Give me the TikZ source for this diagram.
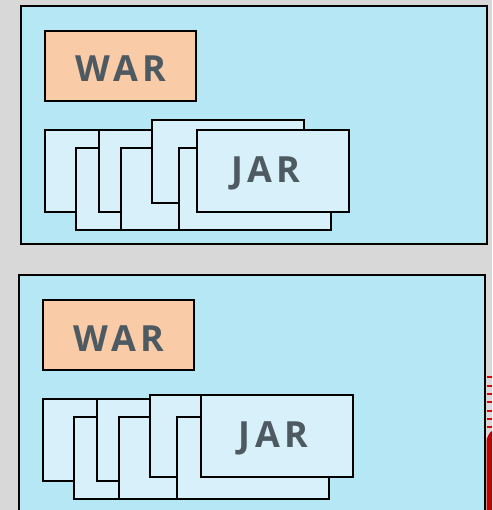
\documentclass[tikz,border=0pt]{standalone}
\usepackage{fontspec}
\setmainfont{Open Sans}
\newfontfamily\lblfont[LetterSpace=12]{Open Sans}
\definecolor{bgray}{HTML}{D8D8D8}
\definecolor{panel}{HTML}{B5E7F4}
\definecolor{jarfill}{HTML}{D8F0F9}
\definecolor{warfill}{HTML}{FACBA7}
\definecolor{txt}{HTML}{4E5A62}
\definecolor{redA}{HTML}{C00000}
\definecolor{redB}{HTML}{E00000}
\tikzset{
  panelbox/.style={draw=black, line width=2pt, fill=panel},
  warbox/.style={draw=black, line width=2pt, fill=warfill},
  jarbox/.style={draw=black, line width=2pt, fill=jarfill},
  lbl/.style={font=\lblfont\fontsize{36}{36}\selectfont\bfseries, text=txt, inner sep=0pt, anchor=base},
}
\begin{document}
\begin{tikzpicture}[x=1pt,y=-1pt]
\useasboundingbox (0,0) rectangle (492,510);
\clip (0,0) rectangle (492,510);
\fill[bgray] (0,0) rectangle (492,510);
% top panel
\draw[panelbox] (21,6) rectangle (487,244);
\draw[warbox] (45,31) rectangle (196,101);
\node[lbl] (war1) at (121,82) {WAR};
\draw[jarbox] (45,130) rectangle (197,212);
\draw[jarbox] (76,148) rectangle (228,230);
\draw[jarbox] (99,130) rectangle (251,212);
\draw[jarbox] (121,148) rectangle (273,230);
\draw[jarbox] (152,120) rectangle (304,203);
\draw[jarbox] (179,148) rectangle (331,230);
\draw[jarbox] (197,130) rectangle (349,212);
\node[lbl] (jar1) at (266,183) {JAR};
% bottom panel
\draw[panelbox] (19,275) rectangle (485,530);
\draw[warbox] (43,300) rectangle (194,370);
\node[lbl] (war2) at (119,351.5) {WAR};
\draw[jarbox] (43,399) rectangle (195,481);
\draw[jarbox] (74,417) rectangle (226,499);
\draw[jarbox] (97,399) rectangle (249,481);
\draw[jarbox] (119,417) rectangle (271,499);
\draw[jarbox] (150,395) rectangle (302,477);
\draw[jarbox] (177,417) rectangle (329,499);
\draw[jarbox] (201,395) rectangle (353,477);
\node[lbl] (jar2) at (273.5,447) {JAR};
% red partial shape at right edge
\foreach \yy in {377,386,394,402,411,419,427}
  \draw[redB, line width=1.2pt] (486.5,\yy) -- (492,\yy);
\fill[redA] (486.5,440) .. controls (488,435) and (490,432) .. (492,431) -- (492,510) -- (486.5,510) -- cycle;
\end{tikzpicture}
\end{document}
